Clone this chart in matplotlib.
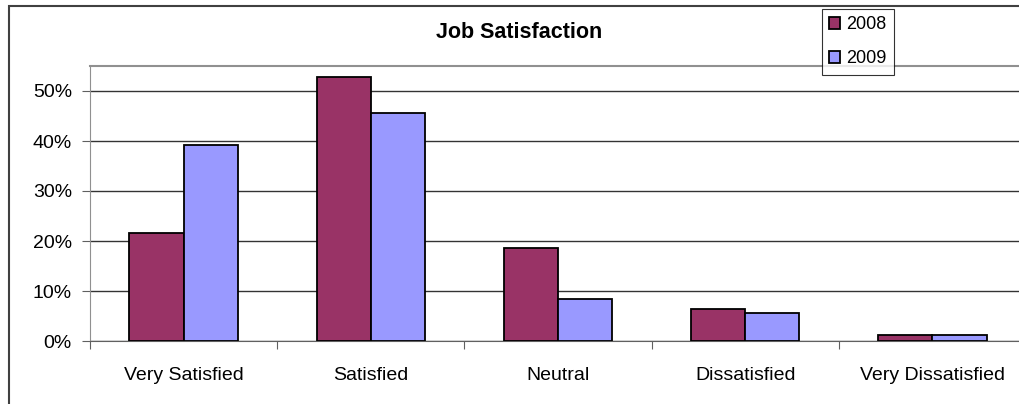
import matplotlib.pyplot as plt
import numpy as np
from matplotlib.patches import Rectangle
from matplotlib.ticker import FuncFormatter

categorias = ['Very Satisfied', 'Satisfied', 'Neutral', 'Dissatisfied', 'Very Dissatisfied']
anos = ['2008', '2009']
valores_2008 = [21.6, 52.8, 18.6, 6.4, 1.2]
valores_2009 = [39.2, 45.6, 8.4, 5.6, 1.2]
yticks = [0, 10, 20, 30, 40, 50]

plt.rcParams['font.family'] = ['Liberation Sans', 'DejaVu Sans']

fig = plt.figure(figsize=(10.2, 4.04), dpi=100)
W, H = 1020, 404
ax = fig.add_axes([90 / W, (H - 341) / H, (1026 - 90) / W, (341 - 66) / H])

x = np.arange(len(categorias))
larg = 0.29
ax.bar(x - larg / 2, valores_2008, larg, color='#993366', edgecolor='black', lw=1.3, label=anos[0], zorder=3)
ax.bar(x + larg / 2, valores_2009, larg, color='#9999FF', edgecolor='black', lw=1.3, label=anos[1], zorder=3)

ax.set_xlim(-0.5, len(categorias) - 0.5)
ax.set_ylim(0, 55)
ax.set_yticks(yticks)
ax.yaxis.set_major_formatter(FuncFormatter(lambda v, p: f'{v:.0f}%'))
ax.yaxis.grid(True, color='#333333', lw=1, zorder=0)

# categorias centradas, ticks entre elas
ax.set_xticks(np.arange(len(categorias) + 1) - 0.5)
ax.set_xticklabels([])
ax.set_xticks(x, minor=True)
ax.set_xticklabels(categorias, minor=True, fontsize=14)
ax.tick_params(axis='x', which='minor', length=0, pad=19)
ax.tick_params(axis='x', which='major', length=6, color='#606060', direction='out')
ax.tick_params(axis='y', length=6, color='#606060', labelsize=14, pad=7)

ax.spines['right'].set_visible(False)
ax.spines['top'].set_color('#909090')
ax.spines['left'].set_color('#909090')
ax.spines['bottom'].set_color('#606060')
ax.spines['top'].set_linewidth(1.5)

fig.text(519 / W, 1 - 33 / H, 'Job Satisfaction', ha='center', va='center', fontsize=15.5, fontweight='bold')

leg = ax.legend(loc='upper left', bbox_to_anchor=((822 - 90) / (1026 - 90), 1 + (66 - 9) / (341 - 66)),
                fontsize=13, frameon=True, fancybox=False, edgecolor='black', borderpad=0.4,
                handlelength=0.6, handleheight=0.6, handletextpad=0.35, labelspacing=0.95, borderaxespad=0)
leg.get_frame().set_linewidth(0.8)

# moldura do gráfico
fig.patches.append(Rectangle((9 / W, -0.1), 1.2, 1 - 6 / H + 0.1, transform=fig.transFigure,
                             fill=False, edgecolor='#404040', lw=1.5))

plt.savefig('out.png', dpi=100)
